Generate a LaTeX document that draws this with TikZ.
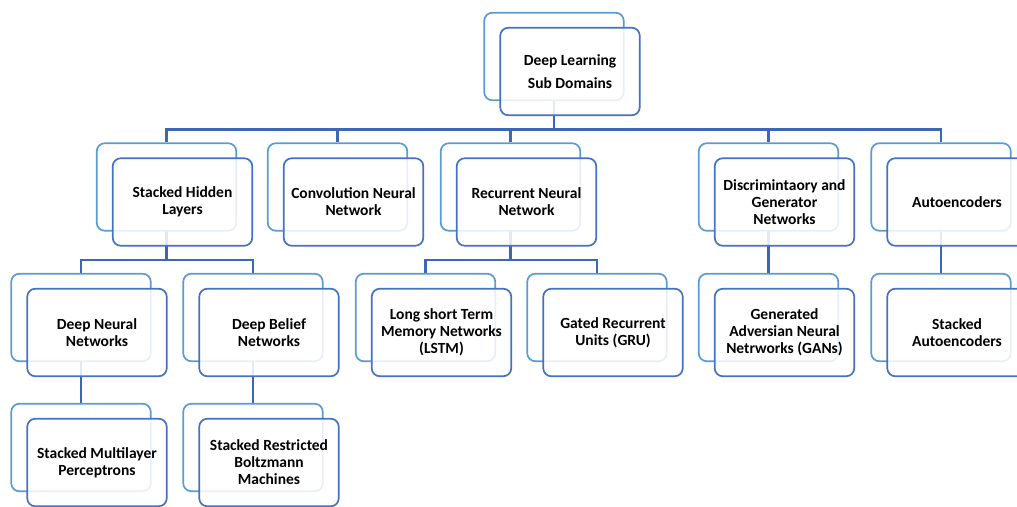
\documentclass[tikz,border=0pt]{standalone}
\usepackage{fontspec}
\setmainfont{Carlito}
\usetikzlibrary{shadows,backgrounds,calc}
\definecolor{frontblue}{HTML}{4472C4}
\definecolor{backblue}{HTML}{5B9BD5}
\definecolor{linkblue}{HTML}{3D65B8}
\tikzset{
  unit/.style={draw=frontblue, line width=1.7pt, fill=white, fill opacity=0.85,
    text opacity=1, rounded corners=8pt, minimum width=139.5pt,
    minimum height=87.5pt, align=center, font=\bfseries\fontsize{15.5}{17}\selectfont,
    copy shadow={shadow xshift=-16pt, shadow yshift=15pt, draw=backblue,
      fill=white, fill opacity=1, line width=1.7pt}},
  link/.style={draw=linkblue, line width=2.2pt}
}
\begin{document}
\begin{tikzpicture}[x=1pt, y=-1pt]
  \useasboundingbox (0,0) rectangle (1017,506);
  \clip (0,0) rectangle (1017,506);
  % top
  \node[unit, font=\bfseries\fontsize{15.5}{23}\selectfont] (root) at (570,71.5) {Deep Learning\\Sub Domains};
  % level 1
  \node[unit] (shl) at (182.5,202) {Stacked Hidden\\Layers};
  \node[unit] (cnn) at (353.5,202) {Convolution Neural\\Network};
  \node[unit] (rnn) at (526.5,202) {Recurrent Neural\\Network};
  \node[unit] (dgn) at (784.5,202) {Discrimintaory and\\Generator\\Networks};
  \node[unit] (ae) at (957,202) {Autoencoders};
  % level 2
  \node[unit] (dnn) at (97,332.5) {Deep Neural\\Networks};
  \node[unit] (dbn) at (269,332.5) {Deep Belief\\Networks};
  \node[unit] (lstm) at (441.5,332.5) {Long short Term\\Memory Networks\\(LSTM)};
  \node[unit] (gru) at (613,332.5) {Gated Recurrent\\Units (GRU)};
  \node[unit] (gan) at (784.5,332.5) {Generated\\Adversian Neural\\Netrworks (GANs)};
  \node[unit] (sae) at (957,332.5) {Stacked\\Autoencoders};
  % level 3
  \node[unit] (smlp) at (97,462.5) {Stacked Multilayer\\Perceptrons};
  \node[unit] (srbm) at (269,462.5) {Stacked Restricted\\Boltzmann\\Machines};
  % connectors
  \begin{scope}[on background layer]
    \foreach \p/\c in {root/shl, root/cnn, root/rnn, root/dgn, root/ae,
                       shl/dnn, shl/dbn, rnn/lstm, rnn/gru, dgn/gan, ae/sae,
                       dnn/smlp, dbn/srbm}
      \draw[link] ($(\p.center)+(-16pt,0pt)$) |- ($(\c.north)+(-16pt,28pt)$)
        -- ($(\c.north)+(-16pt,15pt)$);
  \end{scope}
\end{tikzpicture}
\end{document}
